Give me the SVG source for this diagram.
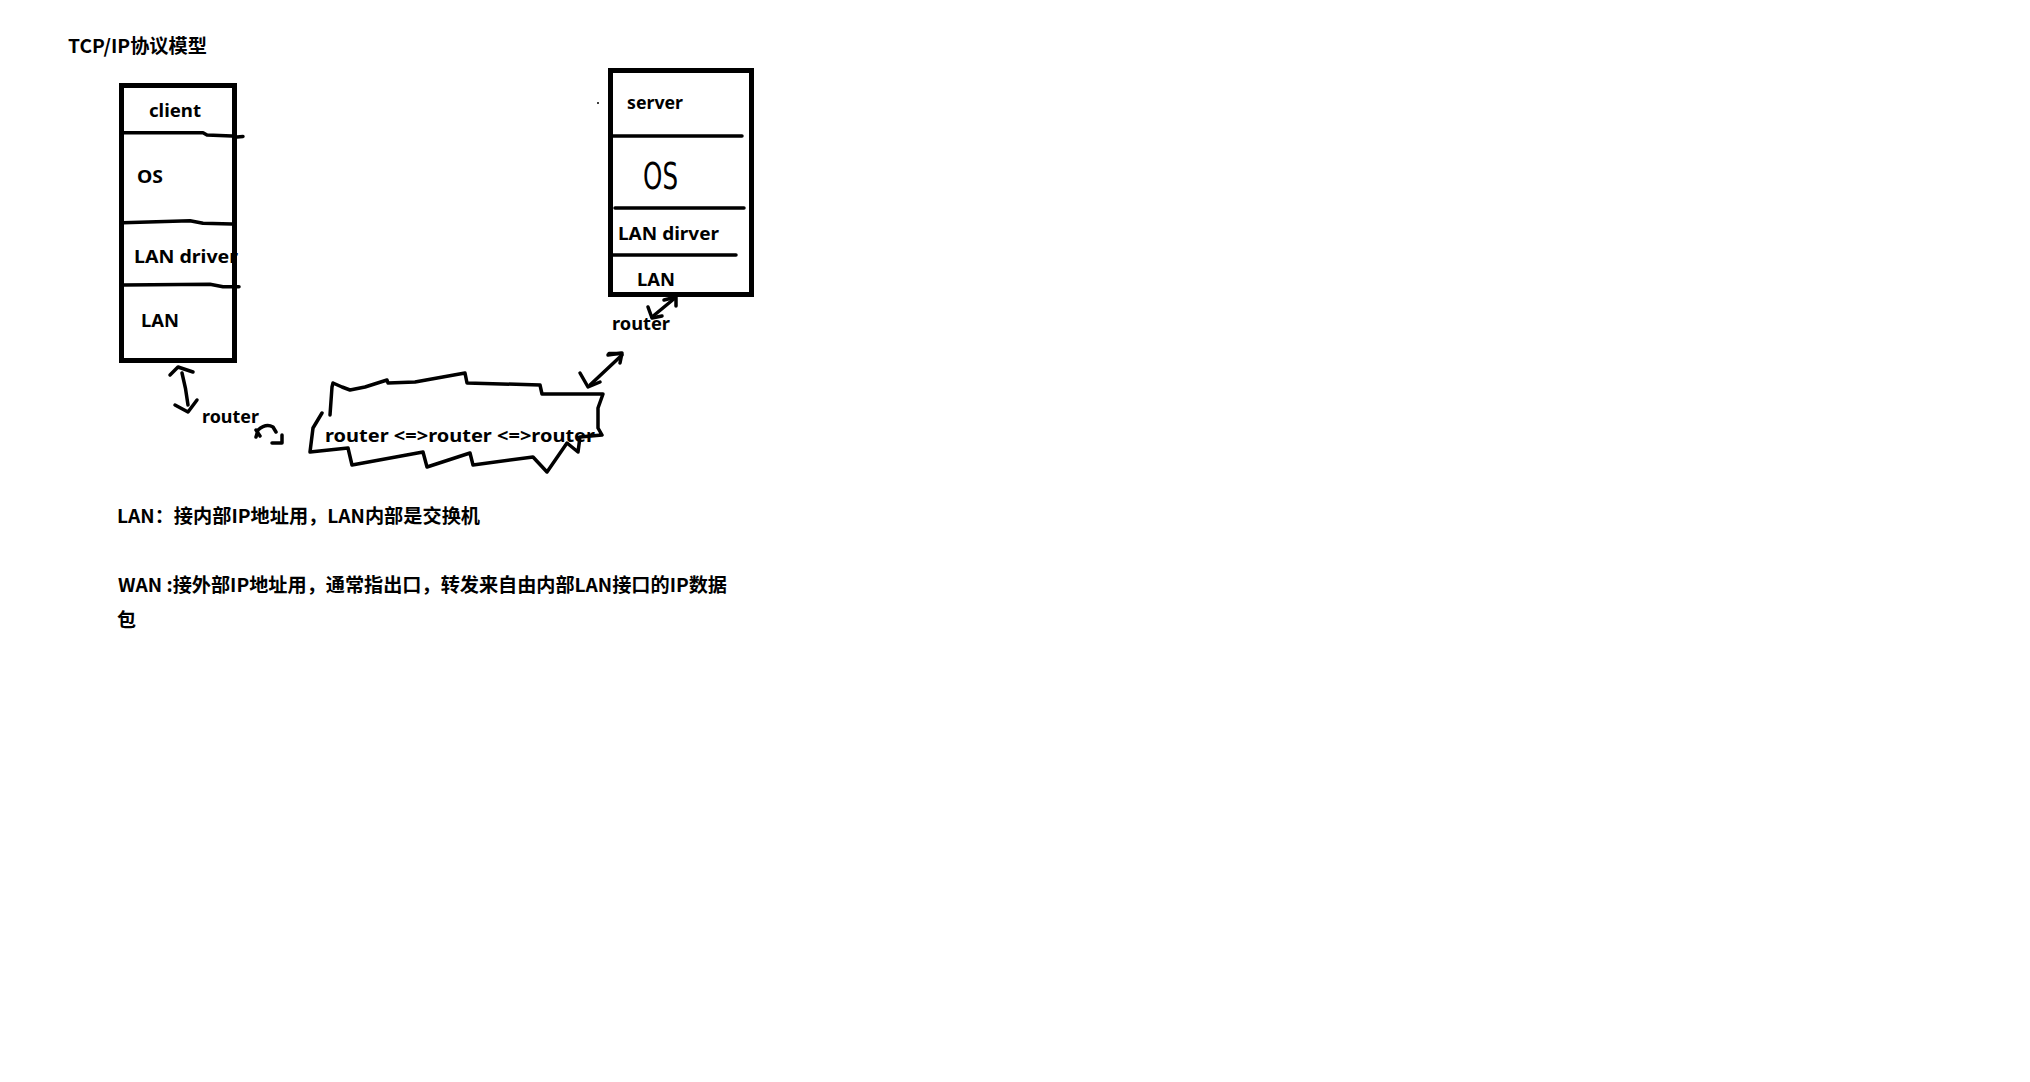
<svg xmlns="http://www.w3.org/2000/svg" width="2030" height="1082" viewBox="0 0 2030 1082">
<style>
  .t { font-family: "Noto Sans", "Noto Sans CJK SC", sans-serif; font-weight: bold; font-size: 18px; fill: #000; }
  .cjk { font-family: "Noto Sans CJK SC", "Noto Sans", sans-serif; font-weight: bold; font-size: 19px; fill: #000; }
  .box { fill: none; stroke: #000; stroke-width: 5; }
  .div { fill: none; stroke: #000; stroke-width: 3.5; stroke-linecap: round; stroke-linejoin: round; }
  .hand { fill: none; stroke: #000; stroke-width: 3.5; stroke-linecap: round; stroke-linejoin: round; }
</style>
<rect width="2030" height="1082" fill="#fff"/>

<g id="title">
  <text class="cjk" x="68" y="53" textLength="139" lengthAdjust="spacingAndGlyphs">TCP/IP协议模型</text>
</g>

<g id="client">
  <text class="t" x="149" y="117" textLength="52" lengthAdjust="spacingAndGlyphs">client</text>
  <text class="t" x="137" y="183" textLength="26" lengthAdjust="spacingAndGlyphs">OS</text>
  <text class="t" x="134" y="263" textLength="104" lengthAdjust="spacingAndGlyphs">LAN driver</text>
  <text class="t" x="141" y="327" textLength="38" lengthAdjust="spacingAndGlyphs">LAN</text>
  <path class="div" d="M123,132.7 L203,132.7 L207,135 L232,136 M237,137 L243,136.5"/>
  <path class="div" d="M123,222.7 L190,220.7 L203,223.3 L232,224"/>
  <path class="div" d="M123,285 L210,284.3 L223,286.7 L239,286.7"/>
  <rect class="box" x="121.5" y="85.5" width="113" height="275"/>
</g>

<g id="server">
  <rect class="box" x="610.5" y="70.5" width="141" height="224"/>
  <circle cx="598" cy="103" r="1" fill="#000"/>
  <text class="t" x="627" y="109" textLength="56" lengthAdjust="spacingAndGlyphs">server</text>
  <line class="div" x1="612" y1="136" x2="742" y2="136"/>
  <text x="643" y="189" style="font-family:'DejaVu Sans',sans-serif;font-size:38px;font-weight:normal" textLength="35" lengthAdjust="spacingAndGlyphs">OS</text>
  <line class="div" x1="615" y1="208" x2="744" y2="208"/>
  <text class="t" x="618" y="240" textLength="101" lengthAdjust="spacingAndGlyphs">LAN dirver</text>
  <line class="div" x1="613" y1="255" x2="736" y2="255"/>
  <text class="t" x="637" y="286" textLength="38" lengthAdjust="spacingAndGlyphs">LAN</text>
</g>

<g id="router-client">
  <text class="t" x="202" y="423" textLength="57" lengthAdjust="spacingAndGlyphs">router</text>
</g>

<g id="router-server">
  <text class="t" x="612" y="330" textLength="58" lengthAdjust="spacingAndGlyphs">router</text>
  <line class="div" x1="609" y1="353.5" x2="621" y2="353.5"/>
</g>

<g id="wan-cloud">
  <polyline class="hand" points="330,415 332,387 333,383 342,387 350,390 365,387 387,380 388,383 415,382 465,373 467,383 540,385 542,394 603,394 598,408 598,428 602,435 580,437 578,452 567,443 547,472 533,457 473,465 470,453 427,467 423,452 352,465 348,448 310,452 313,428 322,413"/>
  <text class="t" x="325" y="442" textLength="270" lengthAdjust="spacingAndGlyphs">router &lt;=&gt;router &lt;=&gt;router</text>
</g>

<g id="connectors">
  <path class="hand" d="M182,373 Q186,388 188,405"/>
  <path class="hand" d="M170,375 L178,367 L193,372"/>
  <path class="hand" d="M175,405 L188,412 L197,400"/>
  <path class="hand" d="M256,437 L258,430 Q266,423 273,427 L276,432 M256,430 L260,436"/>
  <path class="hand" d="M282,435 L282,443 L272,443"/>
  <path class="hand" d="M675,298 L652,317"/>
  <path class="hand" d="M664,300 L676,297 L676,306"/>
  <path class="hand" d="M648,307 L652,318 L662,316"/>
  <path class="hand" d="M622,355 L590,385"/>
  <path class="hand" d="M608,355 L622,353 L620,363"/>
  <path class="hand" d="M580,373 L588,387 L600,382"/>
</g>

<g id="notes">
  <text class="cjk" x="117" y="523" textLength="363" lengthAdjust="spacingAndGlyphs">LAN：接内部IP地址用，LAN内部是交换机</text>
  <text class="cjk" x="118" y="592" textLength="609" lengthAdjust="spacingAndGlyphs">WAN :接外部IP地址用，通常指出口，转发来自由内部LAN接口的IP数据</text>
  <text class="cjk" x="117" y="627">包</text>
</g>
</svg>
